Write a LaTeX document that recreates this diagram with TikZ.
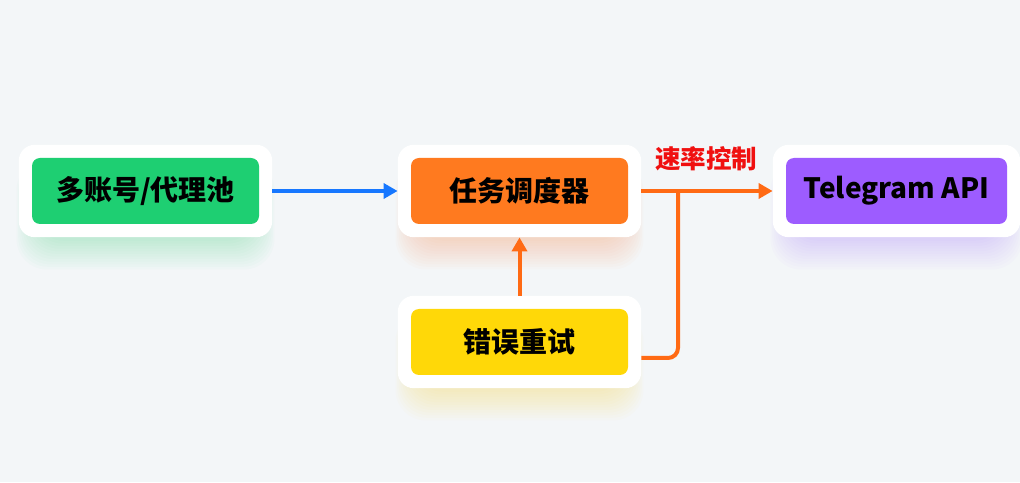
\documentclass[tikz,border=0pt]{standalone}
\usepackage{fontspec}
\newfontfamily\cjk{Noto Sans CJK SC}
\usetikzlibrary{arrows.meta,fit,backgrounds,calc}
\definecolor{bgc}{HTML}{F3F6F8}
\definecolor{cgreen}{HTML}{1ECF72}
\definecolor{corange}{HTML}{FF7A1F}
\definecolor{cyellow}{HTML}{FFD808}
\definecolor{cpurple}{HTML}{9D5CFF}
\definecolor{cblue}{HTML}{1677FF}
\definecolor{carrow}{HTML}{FF6A14}
\definecolor{cred}{HTML}{F01010}
\tikzset{
  inner/.style={minimum height=66pt, rounded corners=8pt, inner sep=0pt, font=\cjk\bfseries\fontsize{28}{32}\selectfont, text=black},
  outer/.style={fill=white, rounded corners=16pt, inner sep=13pt},
  conn/.style={line width=4pt},
  tip/.style={-{Triangle[length=14pt,width=15pt]}},
}
\newcommand{\glow}[2]{%
  \foreach \k in {1,...,12}{%
    \fill[#1, opacity=0.018, rounded corners=30pt]
      ($(#2.south west)+(-\k*1.6pt+4pt,-\k*2.6pt-14pt)$) rectangle ($(#2.north east)+(\k*1.6pt-4pt,\k*1pt-14pt)$);
  }}
\begin{document}
\begin{tikzpicture}[x=1pt,y=1pt]
\useasboundingbox (0,0) rectangle (1020,482);

\node[inner, fill=cgreen, minimum width=227pt] (a) at (145.5,291) {多账号/代理池};
\node[inner, fill=corange, minimum width=217pt] (b) at (519.5,291) {任务调度器};
\node[inner, fill=cpurple, minimum width=221pt] (t) at (896.5,291) {Telegram API};
\node[inner, fill=cyellow, minimum width=217pt] (e) at (519.5,140) {错误重试};

\begin{scope}[on background layer]
  \fill[bgc] (0,0) rectangle (1020,482);
  \glow{cgreen}{a}
  \glow{corange}{b}
  \glow{cpurple}{t}
  \glow{cyellow}{e}
  \node[outer, fit=(a)] (A) {};
  \node[outer, fit=(b)] (B) {};
  \node[outer, fit=(t)] (T) {};
  \node[outer, fit=(e)] (E) {};
\end{scope}

\coordinate (J) at (678,291);
\draw[conn, cblue, tip] (A.east) -- (B.west);
\draw[conn, carrow, tip] (B.east) -- (T.west);
\draw[conn, carrow, rounded corners=10pt] ([yshift=-16pt]E.east) -| (J);
\draw[conn, carrow, tip] (E.north) -- (B.south);
\node[font=\cjk\bfseries\fontsize{25.5}{28}\selectfont, text=cred] (lbl) at (706,323) {速率控制};
\end{tikzpicture}
\end{document}
